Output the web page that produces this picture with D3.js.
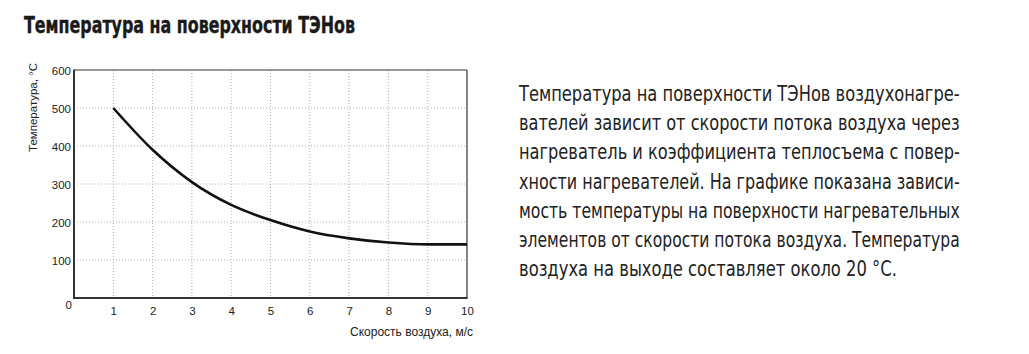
<!DOCTYPE html>
<html>
<head>
<meta charset="utf-8">
<script src="https://cdn.jsdelivr.net/npm/d3@7"></script>
<style>
  body { margin: 0; background: #fff; }
  svg { display: block; }
  .narrow { font-family: "Liberation Sans Narrow", "DejaVu Sans Condensed", "Liberation Sans", sans-serif; }
  .axis text { font-family: "Liberation Sans", Arial, sans-serif; font-size: 11.5px; fill: #222; }
</style>
</head>
<body>
<script>
// Airspeed, m/s and surface temperature, °C
const speed = [1, 2, 3, 4, 5, 6, 7, 8, 9, 10];
const temperature = [500, 390, 305, 245, 205, 175, 157, 146, 141, 141];
const xTicks = [1, 2, 3, 4, 5, 6, 7, 8, 9, 10];
const yTicks = [0, 100, 200, 300, 400, 500, 600];

const title = 'Температура на поверхности ТЭНов';
const xLabel = 'Скорость воздуха, м/с';
const yLabel = 'Температура, °С';
const paragraph = [
    'Температура на поверхности ТЭНов воздухонагре-',
    'вателей зависит от скорости потока воздуха через',
    'нагреватель и коэффициента теплосъема с повер-',
    'хности нагревателей. На графике показана зависи-',
    'мость температуры на поверхности нагревательных',
    'элементов от скорости потока воздуха. Температура',
    'воздуха на выходе составляет около 20 °С.'
];

const width = 1029, height = 354;
const margin = { left: 74, top: 70, right: 1029 - 467, bottom: 354 - 298 };

const svg = d3.select('body').append('svg')
    .attr('width', width)
    .attr('height', height);

const x = d3.scaleLinear().domain([0, 10]).range([margin.left, width - margin.right]);
const y = d3.scaleLinear().domain([0, 600]).range([height - margin.bottom, margin.top]);

// squeeze a text horizontally so it spans exactly `w` pixels
function fitWidth(sel, x0, y0, w) {
    const natural = sel.node().getComputedTextLength();
    sel.attr('x', 0).attr('y', 0)
        .attr('transform', `translate(${x0},${y0}) scale(${w / natural},1)`);
}

// Title
const titleText = svg.append('text')
    .attr('class', 'narrow')
    .attr('font-size', 23)
    .attr('font-weight', 'bold')
    .attr('fill', '#1a1a1a')
    .attr('stroke', '#1a1a1a')
    .attr('stroke-width', 0.4)
    .text(title);
fitWidth(titleText, 24, 33, 331);

// Grid (dotted, light)
const grid = svg.append('g').attr('stroke', '#b0b0b0').attr('stroke-width', 1).attr('stroke-dasharray', '1,2');
grid.selectAll('.vg')
    .data(xTicks.filter(d => d < 10))
    .enter().append('line')
    .attr('x1', d => x(d)).attr('x2', d => x(d))
    .attr('y1', y(600)).attr('y2', y(0));
grid.selectAll('.hg')
    .data(yTicks.filter(d => d > 0 && d < 600))
    .enter().append('line')
    .attr('x1', x(0)).attr('x2', x(10))
    .attr('y1', d => y(d)).attr('y2', d => y(d));

// Frame: top & right thin, left & bottom heavier
svg.append('line').attr('x1', x(0)).attr('x2', x(10)).attr('y1', y(600)).attr('y2', y(600))
    .attr('stroke', '#333').attr('stroke-width', 1.2);
svg.append('line').attr('x1', x(10)).attr('x2', x(10)).attr('y1', y(600)).attr('y2', y(0))
    .attr('stroke', '#333').attr('stroke-width', 1.2);
svg.append('line').attr('x1', x(0)).attr('x2', x(0)).attr('y1', y(600) - 0.6).attr('y2', y(0) + 1)
    .attr('stroke', '#333').attr('stroke-width', 2);
svg.append('line').attr('x1', x(0) - 1).attr('x2', x(10) + 0.6).attr('y1', y(0)).attr('y2', y(0))
    .attr('stroke', '#333').attr('stroke-width', 2);

// Axes (labels only)
const xAxis = svg.append('g')
    .attr('class', 'axis')
    .attr('transform', `translate(0,${y(0)})`)
    .call(d3.axisBottom(x).tickValues(xTicks).tickSize(0).tickPadding(9));
xAxis.select('.domain').remove();

const yAxis = svg.append('g')
    .attr('class', 'axis')
    .attr('transform', `translate(${x(0)},0)`)
    .call(d3.axisLeft(y).tickValues(yTicks).tickSize(0).tickPadding(3));
yAxis.select('.domain').remove();
yAxis.selectAll('.tick text')
    .attr('dy', d => d === 0 ? '0.95em' : '0.4em');
yAxis.selectAll('.tick')
    .filter(d => d === 0)
    .select('text').attr('x', -2);

// Axis titles
svg.append('text')
    .attr('x', 473)
    .attr('y', 336)
    .attr('text-anchor', 'end')
    .attr('font-family', '"Liberation Sans", Arial, sans-serif')
    .attr('font-size', 12)
    .attr('fill', '#222')
    .text(xLabel);

svg.append('text')
    .attr('transform', `translate(37,63) rotate(-90)`)
    .attr('text-anchor', 'end')
    .attr('font-family', '"Liberation Sans", Arial, sans-serif')
    .attr('font-size', 11.5)
    .attr('fill', '#222')
    .text(yLabel);

// Curve
const line = d3.line()
    .x((d, i) => x(speed[i]))
    .y(d => y(d))
    .curve(d3.curveMonotoneX);

svg.append('path')
    .datum(temperature)
    .attr('d', line)
    .attr('fill', 'none')
    .attr('stroke', '#111')
    .attr('stroke-width', 2.6);

// Description paragraph (justified)
const para = svg.append('g').attr('class', 'narrow');
paragraph.forEach((ln, i) => {
    const t = para.append('text')
        .attr('font-size', 22)
        .attr('fill', '#222')
        .text(ln);
    fitWidth(t, 519, 101 + i * 29.2, i < paragraph.length - 1 ? 441 : 378);
});
</script>
</body>
</html>
